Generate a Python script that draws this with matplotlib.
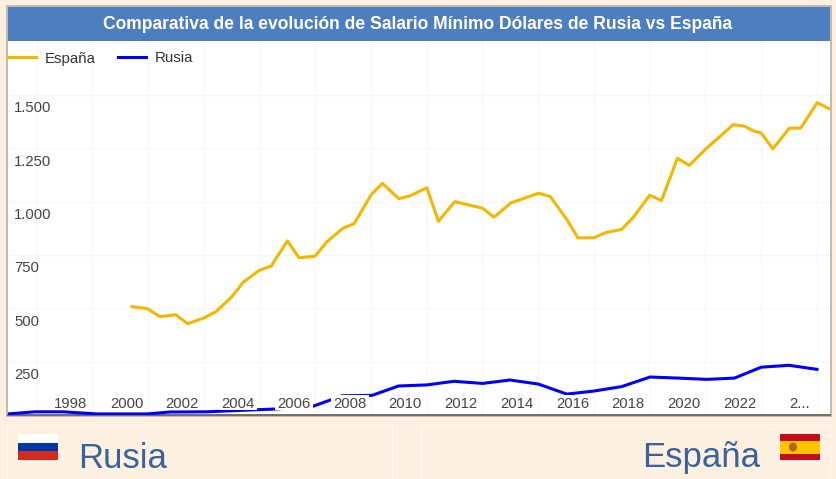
import matplotlib

matplotlib.use("Agg")
import matplotlib.pyplot as plt
import numpy as np
from matplotlib.patches import Ellipse, Rectangle
from matplotlib.transforms import IdentityTransform

W, H = 837, 479

title = "Comparativa de la evolución de Salario Mínimo Dólares de Rusia vs España"

espana_years = [
    2000.19, 2000.75, 2001.20, 2001.76, 2002.19, 2002.78, 2003.20, 2003.77, 2004.19, 2004.76,
    2005.19, 2005.77, 2006.19, 2006.76, 2007.19, 2007.76, 2008.17, 2008.78, 2009.18, 2009.77,
    2010.17, 2010.78, 2011.19, 2011.78, 2012.78, 2013.19, 2013.79, 2014.78, 2015.20, 2015.80,
    2016.20, 2016.77, 2017.20, 2017.77, 2018.19, 2018.78, 2019.20, 2019.77, 2020.20, 2020.79,
    2021.78, 2022.20, 2022.47, 2022.78, 2023.20, 2023.79, 2024.20, 2024.79, 2025.21,
]
espana_values = [
    508, 498, 461, 470, 428, 455, 484, 553, 623, 678,
    698, 816, 737, 744, 812, 875, 897, 1033, 1086, 1014,
    1027, 1065, 908, 1000, 969, 927, 994, 1039, 1025, 917,
    830, 831, 855, 870, 927, 1030, 1005, 1203, 1170, 1247,
    1361, 1353, 1333, 1322, 1248, 1344, 1345, 1464, 1436,
]

rusia_years = [
    1995.74, 1996.71, 1997.71, 1998.93, 2000.73, 2001.55, 2002.88, 2004.32, 2005.33, 2006.65,
    2007.73, 2008.81, 2009.76, 2010.78, 2011.75, 2012.78, 2013.76, 2014.78, 2015.80, 2016.76,
    2017.77, 2018.79, 2019.80, 2020.83, 2021.82, 2022.78, 2023.78, 2024.78,
]
rusia_values = [
    5, 15, 15, 5, 5, 14, 15, 23, 28, 39,
    90, 92, 136, 141, 158, 148, 164, 145, 98, 112,
    133, 178, 173, 167, 173, 224, 233, 214,
]

x_tick_years = list(range(1998, 2024, 2))
x_tick_labels = [str(y) for y in x_tick_years]
y_ticks = [250, 500, 750, 1000, 1250, 1500]
y_tick_labels = ["250", "500", "750", "1.000", "1.250", "1.500"]

PEACH = "#FEF0E0"
FONT = "Liberation Sans"


def px_box(x0, y0, x1, y1, **kw):
    return Rectangle((x0, y0), x1 - x0, y1 - y0, **kw)


def main():
    plt.rcParams["font.family"] = FONT
    fig = plt.figure(figsize=(W / 100, H / 100), dpi=100, facecolor=PEACH)

    # page furniture, in pixel coordinates
    bg = fig.add_axes([0, 0, 1, 1], zorder=0)
    bg.set_xlim(0, W)
    bg.set_ylim(H, 0)
    bg.axis("off")
    bg.add_patch(px_box(7, 6, 831, 416, fc="white", ec="#B5AFA5", lw=1.2))
    bg.add_patch(px_box(8, 7, 830, 41, fc="#4D7EBF", ec="none"))
    bg.text(418, 24.5, title, color="white", fontsize=12.65, fontweight="bold", ha="center", va="center")

    bg.add_patch(px_box(7.5, 423.5, 392.5, 490, fc="none", ec="#FFF8F0", lw=1))
    bg.add_patch(px_box(421.5, 423.5, 830.5, 490, fc="none", ec="#FFF8F0", lw=1))

    bg.add_patch(px_box(18, 434, 58, 442.7, fc="white", ec="none"))
    bg.add_patch(px_box(18, 442.7, 58, 451.3, fc="#0039A6", ec="none"))
    bg.add_patch(px_box(18, 451.3, 58, 460, fc="#D52B1E", ec="none"))
    bg.add_patch(px_box(780, 434, 820, 460, fc="#C60B1E", ec="none"))
    bg.add_patch(px_box(780, 440.5, 820, 453.5, fc="#FFC400", ec="none"))
    bg.add_patch(Ellipse((793, 447), 8, 9, fc="#B5651D", ec="none"))

    bg.text(78, 458, "Rusia", color="#3A6499", fontsize=25, ha="left", va="center")
    bg.text(760, 458, "España", color="#3A6499", fontsize=25, ha="right", va="center")

    ax = fig.add_axes([8 / W, 1 - 415 / H, 822 / W, 374 / H], zorder=1)
    ax.patch.set_alpha(0)
    ax.set_xlim(1995.74, 2025.25)
    ax.set_ylim(0, 1753)

    ax.plot(espana_years, espana_values, color="#F2B800", lw=2.2, label="España", zorder=3)
    ax.plot(rusia_years, rusia_values, color="#0000FF", lw=2.2, label="Rusia", zorder=3)

    ax.set_yticks(y_ticks, [])
    ax.set_xticks([], [])
    ax.set_xticks(np.arange(1996.77, 2026, 2), minor=True)
    ax.tick_params(which="both", length=0)
    ax.grid(visible=True, which="major", axis="y", color="#F7F7F7", lw=1)
    ax.grid(visible=True, which="minor", axis="x", color="#F7F7F7", lw=1)
    ax.set_axisbelow(True)
    for side in ["top", "left", "right"]:
        ax.spines[side].set_visible(False)
    ax.spines["bottom"].set_color("#666666")
    ax.spines["bottom"].set_linewidth(1.3)

    for v, lab in zip(y_ticks, y_tick_labels):
        ax.annotate(
            lab, (0, v), xycoords=ax.get_yaxis_transform(), xytext=(6, -13.5),
            textcoords="offset pixels", ha="left", va="center", fontsize=10.7, color="#444444",
        )

    # the labels sit on a white box that hides the line behind them
    for y, lab in zip(x_tick_years, x_tick_labels):
        cx = ax.transData.transform((y, 0))[0]
        ax.add_patch(
            Rectangle(
                (cx - 19, H - 410), 38, 15, transform=IdentityTransform(),
                fc="white", ec="none", zorder=3.5,
            )
        )
        ax.annotate(
            lab, (y, 0), xycoords=ax.get_xaxis_transform(), xytext=(0, 11),
            textcoords="offset pixels", ha="center", va="center", fontsize=10.7,
            color="#444444", zorder=4,
        )
    ax.annotate(
        "2...", (2024, 0), xycoords=ax.get_xaxis_transform(), xytext=(4, 11),
        textcoords="offset pixels", ha="center", va="center", fontsize=10.7,
        color="#444444", zorder=4,
    )

    ax.legend(
        loc="center left", bbox_to_anchor=(0, 1 - 17.5 / 374), ncols=2, frameon=False,
        fontsize=10.8, handlelength=1.85, handletextpad=0.6, columnspacing=1.5,
        borderpad=0, borderaxespad=0, labelcolor="#333333",
    )

    fig.savefig("out.png", dpi=100, facecolor=PEACH)


if __name__ == "__main__":
    main()
